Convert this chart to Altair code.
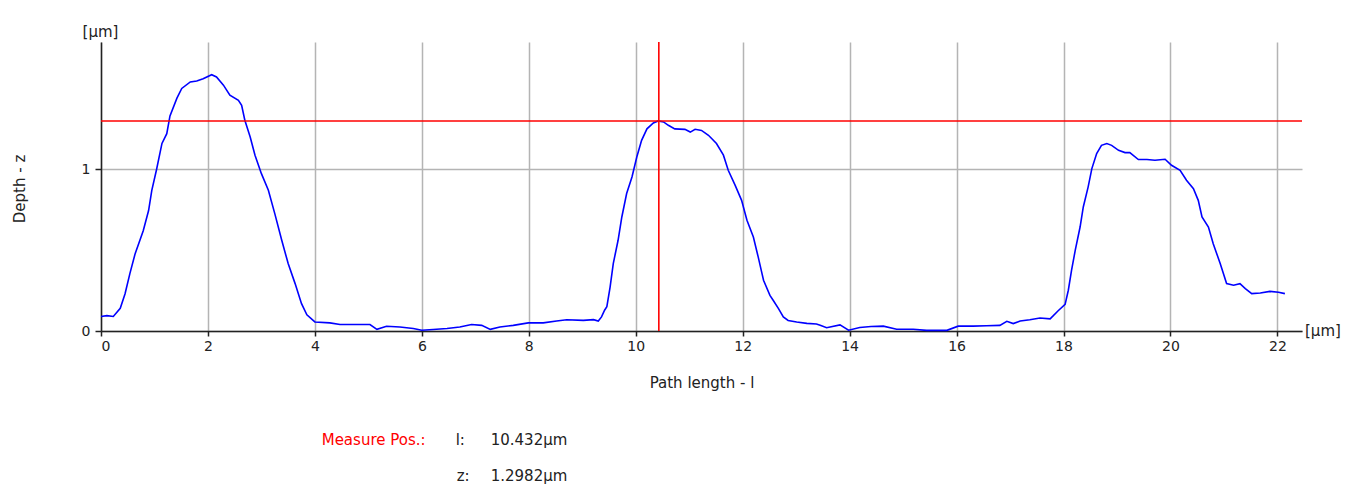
import altair as alt
import pandas as pd

# Profile data (path length in µm, depth in µm)
path_l = [0.00, 0.11, 0.23, 0.36, 0.45, 0.54, 0.64, 0.79, 0.89, 0.95, 1.04, 1.14, 1.23, 1.29, 1.42,
          1.51, 1.67, 1.79, 1.91, 2.07, 2.16, 2.29, 2.41, 2.57, 2.63, 2.69, 2.79, 2.88, 3.00, 3.13,
          3.25, 3.38, 3.50, 3.63, 3.75, 3.85, 4.00, 4.28, 4.47, 4.81, 5.03, 5.16, 5.34, 5.59, 5.84,
          6.00, 6.21, 6.47, 6.71, 6.93, 7.12, 7.28, 7.46, 7.71, 7.99, 8.27, 8.52, 8.71, 9.02, 9.21,
          9.30, 9.36, 9.42, 9.46, 9.52, 9.58, 9.67, 9.74, 9.83, 9.93, 10.02, 10.11, 10.21, 10.33,
          10.42, 10.52, 10.61, 10.73, 10.92, 11.02, 11.11, 11.23, 11.36, 11.51, 11.64, 11.73, 11.86,
          11.98, 12.08, 12.20, 12.29, 12.39, 12.51, 12.57, 12.67, 12.76, 12.85, 13.01, 13.20, 13.38,
          13.45, 13.57, 13.82, 13.98, 14.19, 14.40, 14.63, 14.88, 15.19, 15.44, 15.69, 15.82, 16.03,
          16.31, 16.56, 16.81, 16.94, 17.06, 17.19, 17.37, 17.56, 17.75, 17.90, 18.03, 18.09, 18.15,
          18.22, 18.31, 18.37, 18.46, 18.53, 18.62, 18.71, 18.81, 18.90, 19.03, 19.15, 19.24, 19.40,
          19.56, 19.71, 19.90, 20.02, 20.18, 20.30, 20.43, 20.52, 20.59, 20.71, 20.80, 20.93, 21.05,
          21.18, 21.30, 21.40, 21.52, 21.68, 21.86, 22.02, 22.14]
depth_z = [0.090, 0.095, 0.090, 0.140, 0.230, 0.355, 0.480, 0.620, 0.745, 0.870, 1.000, 1.160, 1.220,
           1.330, 1.440, 1.500, 1.540, 1.546, 1.560, 1.585, 1.571, 1.520, 1.458, 1.427, 1.396, 1.303,
           1.200, 1.087, 0.973, 0.870, 0.726, 0.561, 0.417, 0.293, 0.169, 0.100, 0.056, 0.050, 0.040,
           0.040, 0.040, 0.010, 0.029, 0.025, 0.015, 0.005, 0.009, 0.015, 0.025, 0.040, 0.035, 0.010,
           0.025, 0.035, 0.050, 0.050, 0.062, 0.070, 0.066, 0.070, 0.062, 0.087, 0.130, 0.150, 0.270,
           0.417, 0.561, 0.705, 0.850, 0.952, 1.076, 1.179, 1.250, 1.286, 1.299, 1.293, 1.272, 1.250,
           1.247, 1.230, 1.247, 1.240, 1.210, 1.159, 1.087, 0.994, 0.900, 0.808, 0.685, 0.581, 0.458,
           0.314, 0.220, 0.190, 0.138, 0.087, 0.065, 0.056, 0.047, 0.043, 0.035, 0.020, 0.038, 0.005,
           0.022, 0.028, 0.030, 0.011, 0.011, 0.004, 0.004, 0.004, 0.030, 0.030, 0.032, 0.035, 0.060,
           0.046, 0.062, 0.070, 0.080, 0.075, 0.125, 0.165, 0.252, 0.375, 0.500, 0.643, 0.767, 0.890,
           1.004, 1.097, 1.148, 1.159, 1.148, 1.117, 1.103, 1.103, 1.060, 1.060, 1.056, 1.062, 1.025,
           0.994, 0.932, 0.880, 0.808, 0.705, 0.643, 0.540, 0.417, 0.293, 0.283, 0.293, 0.262, 0.231,
           0.235, 0.245, 0.240, 0.231]

x_ticks = list(range(0, 23, 2))
y_ticks = [0, 1]
x_max = 22.46
y_max = 1.787

measure_l = 10.432
measure_z = 1.2982

FONT = "DejaVu Sans"
W, H = 1201, 289

profile = pd.DataFrame({"l": path_l, "z": depth_z})
meas = pd.DataFrame({"l": [measure_l], "z": [measure_z]})
one = pd.DataFrame({"d": [0]})

xscale = alt.Scale(domain=[0, x_max], nice=False, zero=False)
yscale = alt.Scale(domain=[0, y_max], nice=False)

line = alt.Chart(profile).mark_line(color="#0000ff", strokeWidth=1.6).encode(
    x=alt.X("l:Q", scale=xscale, axis=alt.Axis(
        values=x_ticks, format="d", grid=True, title="Path length - l",
        titleY=51, titleBaseline="middle", labelPadding=3, tickSize=5)),
    y=alt.Y("z:Q", scale=yscale, axis=alt.Axis(
        values=y_ticks, format="d", grid=True, title="Depth - z",
        titleX=-82, titleY=H / 2 + 2, titleAngle=-90, titleAlign="center",
        titleBaseline="middle", labelPadding=5, tickSize=6)),
)

vrule = alt.Chart(meas).mark_rule(color="#ff0000", strokeWidth=1.6).encode(
    x=alt.X("l:Q", scale=xscale))
hrule = alt.Chart(meas).mark_rule(color="#ff0000", strokeWidth=1.6).encode(
    y=alt.Y("z:Q", scale=yscale))


def label(txt, x, y, color="#222222", align="left", baseline="alphabetic", size=15):
    return alt.Chart(one).mark_text(
        text=txt, align=align, baseline=baseline, font=FONT, fontSize=size, color=color
    ).encode(x=alt.value(x), y=alt.value(y))


unit_y = label("[µm]", -0.5, -10.5, align="center", baseline="middle")
unit_x = label("[µm]", W + 3, H, align="left", baseline="middle")
m1 = label("Measure Pos.:", 220.7, 403.3, color="#ff0000")
m2 = label("l:", 354.7, 403.3)
m3 = label(f"{measure_l:.3f}µm", 389.7, 403.3)
m4 = label("z:", 355.7, 439)
m5 = label(f"{measure_z:.4f}µm", 389.7, 439)

chart = alt.layer(line, vrule, hrule, unit_y, unit_x, m1, m2, m3, m4, m5).properties(
    width=W, height=H,
    autosize=alt.AutoSizeParams(type="none"),
    padding={"left": 93, "top": 34, "right": 55, "bottom": 157},
    background="white",
).configure_view(stroke=None).configure_axis(
    labelFont=FONT, labelFontSize=14, labelColor="#222222",
    titleFont=FONT, titleFontSize=15, titleFontWeight="normal", titleColor="#222222",
    domainColor="#222222", domainWidth=1.5, tickColor="#222222", tickWidth=1.5,
    gridColor="#b4b4b4", gridWidth=1.5,
)

chart.save("out.html", embed_options={"renderer": "svg", "actions": False})
